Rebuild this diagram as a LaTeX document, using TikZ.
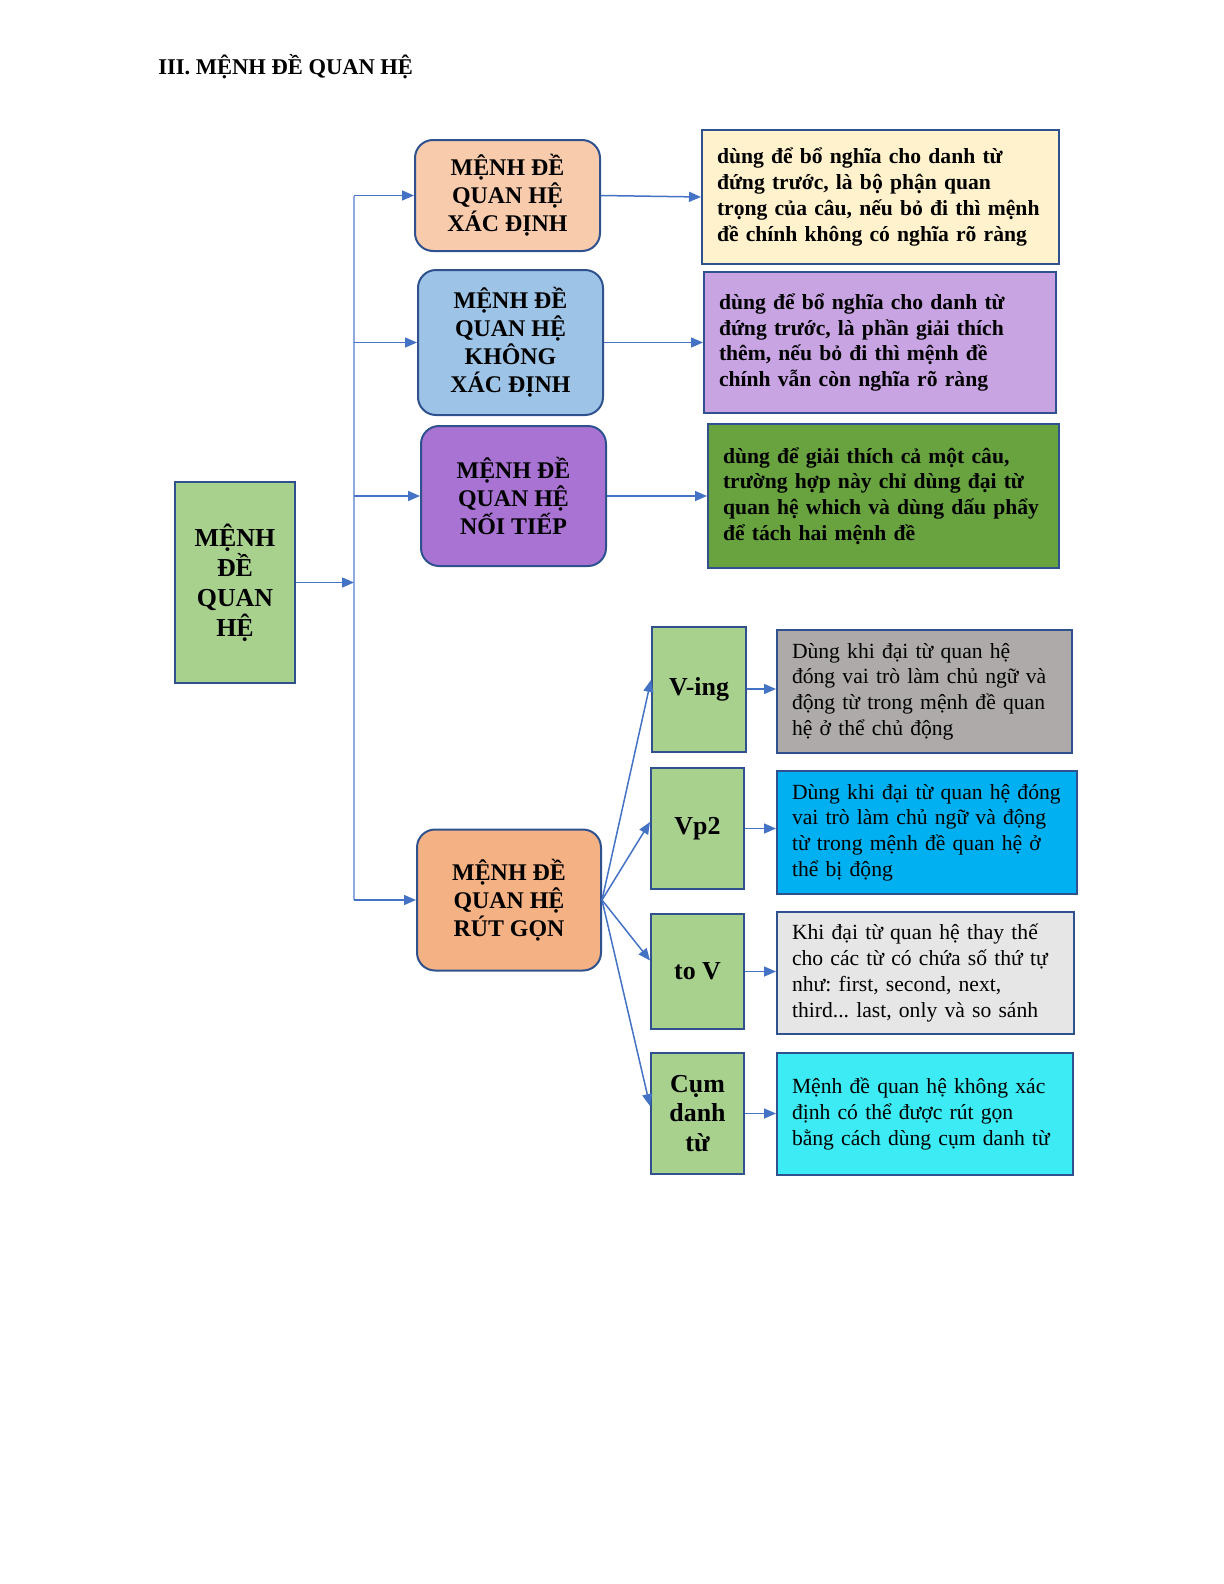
\documentclass[tikz,border=0pt]{standalone}
\usepackage{fontspec}
\setmainfont{Liberation Serif}
\usetikzlibrary{arrows.meta}

\definecolor{boxline}{HTML}{2F528F}
\definecolor{linkblue}{HTML}{4472C4}
\definecolor{busblue}{HTML}{8FAADC}
\definecolor{leafgreen}{HTML}{A9D18E}
\definecolor{peach}{HTML}{F8CBAD}
\definecolor{skyblue}{HTML}{9DC3E6}
\definecolor{violet}{HTML}{A873D2}
\definecolor{apricot}{HTML}{F4B183}
\definecolor{cream}{HTML}{FFF2CC}
\definecolor{lilac}{HTML}{C8A4E3}
\definecolor{grass}{HTML}{68A340}
\definecolor{stone}{HTML}{AEAAAA}
\definecolor{cyanblue}{HTML}{00B0F0}
\definecolor{mist}{HTML}{E7E6E6}
\definecolor{aqua}{HTML}{3CEBF4}

\begin{document}
\begin{tikzpicture}[x=0.5bp,y=-0.5bp,
    every node/.append style={inner sep=0pt, align=center},
    box/.style={draw=boxline, line width=1bp},
    group/.style={box, rounded corners=9bp, minimum width=92.5bp, font=\fontsize{12}{14}\selectfont\bfseries},
    leaf/.style={box, fill=leafgreen, minimum width=46.5bp, font=\fontsize{13}{15}\selectfont\bfseries},
    note/.style={box, align=left, inner xsep=7.5bp, font=\fontsize{10.85}{12.9}\selectfont\frenchspacing},
    boldnote/.style={note, font=\fontsize{10.85}{12.9}\selectfont\bfseries\frenchspacing},
    link/.style={draw=linkblue, line width=0.75bp, -{Triangle[length=6bp,width=5bp]}}
  ]
  \useasboundingbox (0,0) rectangle (1224,1584);

  % Title
  \node[anchor=base west, font=\fontsize{11.3}{13}\selectfont\bfseries] (title) at (158,74) {III. MỆNH ĐỀ QUAN HỆ};

  % Root
  \node[box, fill=leafgreen, minimum width=60bp, minimum height=100.5bp, font=\fontsize{13}{15}\selectfont\bfseries]
    (root) at (235,582.5) {MỆNH\\ĐỀ\\QUAN\\HỆ};

  % Groups
  \node[group, fill=peach, minimum height=55.5bp] (xacdinh) at (507.5,195.5) {MỆNH ĐỀ\\QUAN HỆ\\XÁC ĐỊNH};
  \node[group, fill=skyblue, minimum height=72.5bp] (khongxd) at (510.5,342.5) {MỆNH ĐỀ\\QUAN HỆ\\KHÔNG\\XÁC ĐỊNH};
  \node[group, fill=violet, minimum height=70bp] (noitiep) at (513.5,496) {MỆNH ĐỀ\\QUAN HỆ\\NỐI TIẾP};
  \node[group, fill=apricot, minimum height=70.5bp, minimum width=92bp] (rutgon) at (509,900) {MỆNH ĐỀ\\QUAN HỆ\\RÚT GỌN};

  % Notes of the groups
  \node[boldnote, fill=cream, text width=163.5bp, minimum height=67bp]
    (nxacdinh) at (880.5,197) {dùng để bổ nghĩa cho danh từ\\đứng trước, là bộ phận quan\\trọng của câu, nếu bỏ đi thì mệnh\\đề chính không có nghĩa rõ ràng};
  \node[boldnote, fill=lilac, text width=161bp, minimum height=70.5bp]
    (nkhongxd) at (880,342.5) {dùng để bổ nghĩa cho danh từ\\đứng trước, là phần giải thích\\thêm, nếu bỏ đi thì mệnh đề\\chính vẫn còn nghĩa rõ ràng};
  \node[boldnote, fill=grass, text width=160.5bp, minimum height=72bp]
    (nnoitiep) at (883.5,496) {dùng để giải thích cả một câu,\\trường hợp này chỉ dùng đại từ\\quan hệ which và dùng dấu phẩy\\để tách hai mệnh đề};

  % Reduced forms
  \node[leaf, minimum height=62.5bp, minimum width=47bp] (ving) at (699,689) {V-ing};
  \node[leaf, minimum height=60.5bp] (vp2) at (697.5,828.5) {Vp2};
  \node[leaf, minimum height=57.5bp] (tov) at (697.5,971.5) {to V};
  \node[leaf, minimum height=60.5bp] (cum) at (697.5,1113.5) {Cụm\\danh\\từ};

  \node[note, fill=stone, text width=132.5bp, minimum height=61.5bp] (nving) at (924.5,691.5)
    {Dùng khi đại từ quan hệ\\đóng vai trò làm chủ ngữ và\\động từ trong mệnh đề quan\\hệ ở thể chủ động};
  \node[note, fill=cyanblue, text width=135bp, minimum height=61.5bp] (nvp2) at (927,832.5)
    {Dùng khi đại từ quan hệ đóng\\vai trò làm chủ ngữ và động\\từ trong mệnh đề quan hệ ở\\thể bị động};
  \node[note, fill=mist, text width=133.5bp, minimum height=61bp] (ntov) at (925.5,973)
    {Khi đại từ quan hệ thay thế\\cho các từ có chứa số thứ tự\\như: first, second, next,\\third... last, only và so sánh};
  \node[note, fill=aqua, text width=133bp, minimum height=61bp] (ncum) at (925,1114)
    {Mệnh đề quan hệ không xác\\định có thể được rút gọn\\bằng cách dùng cụm danh từ};

  % Bus
  \coordinate (bus) at (354,582);
  \draw[draw=busblue, line width=0.75bp] (bus |- xacdinh.west) -- (bus |- rutgon.west);
  \draw[link] (root.east) -- (bus |- root.east);
  \foreach \g in {xacdinh,khongxd,noitiep,rutgon}
    \draw[link] (bus |- \g.west) -- (\g.west);

  % Connectors
  \foreach \g in {xacdinh,khongxd,noitiep}
    \draw[link] (\g.east) -- (n\g.west);
  \foreach \f/\up in {ving/4.5bp,vp2/3.25bp,tov/5.5bp,cum/3.75bp} {
    \draw[link] (rutgon.east) -- ([yshift=\up]\f.west);
    \draw[link] (\f.east) -- (\f.east -| n\f.west);
  }
\end{tikzpicture}
\end{document}
